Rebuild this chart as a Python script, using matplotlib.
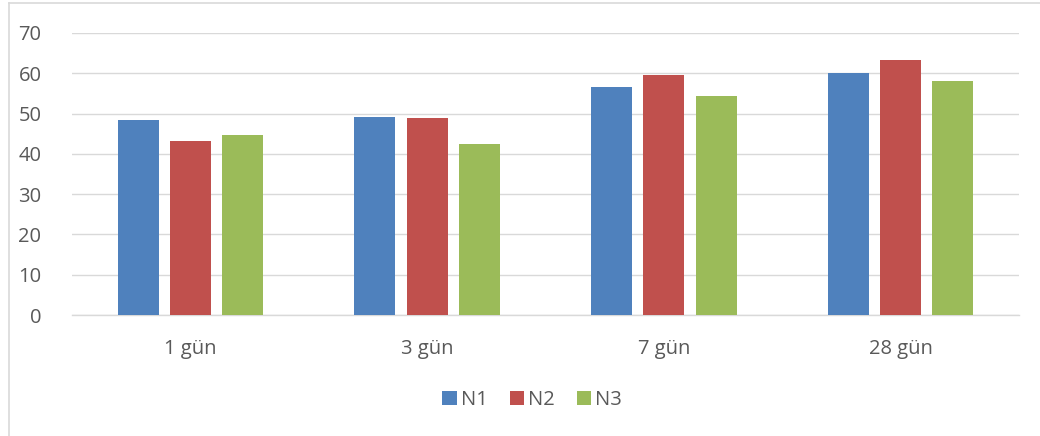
import matplotlib
matplotlib.use("Agg")
import matplotlib.pyplot as plt
from matplotlib.lines import Line2D
import numpy as np

categories = ["1 gün", "3 gün", "7 gün", "28 gün"]
series_names = ["N1", "N2", "N3"]
n1 = [48.4, 49.2, 56.5, 60.0]
n2 = [43.2, 48.9, 59.6, 63.2]
n3 = [44.6, 42.4, 54.3, 58.2]
yticks = [0, 10, 20, 30, 40, 50, 60, 70]
colors = ["#4F81BD", "#C0504D", "#9BBB59"]

W, H = 1040, 436
fig = plt.figure(figsize=(W / 100, H / 100), dpi=100)
plt.rcParams['font.family'] = ['Open Sans', 'DejaVu Sans']

# outer border (top and left edges visible)
fig.lines.append(Line2D([8.5 / W, 8.5 / W], [0, (H - 3.5) / H], transform=fig.transFigure,
                        color="#d9d9d9", linewidth=1.2))
fig.lines.append(Line2D([8.5 / W, 1], [(H - 3.5) / H, (H - 3.5) / H], transform=fig.transFigure,
                        color="#d9d9d9", linewidth=1.2))

ax = fig.add_axes([72 / W, (H - 315) / H, 947 / W, 282 / H])
x = np.arange(len(categories))
bw = 0.173
step = 0.221
for i, (vals, name) in enumerate(zip([n1, n2, n3], series_names)):
    ax.bar(x + (i - 1) * step, vals, width=bw, color=colors[i], label=name, zorder=3)

ax.set_xlim(-0.5, len(categories) - 0.5)
ax.set_ylim(0, 70)
ax.set_yticks(yticks)
ax.set_xticks(x)
ax.set_xticklabels(categories)
ax.yaxis.grid(True, color="#d9d9d9", linewidth=1.0, zorder=0)
ax.set_axisbelow(True)
for s in ["top", "right", "left"]:
    ax.spines[s].set_visible(False)
ax.spines["bottom"].set_color("#d9d9d9")
ax.spines["bottom"].set_linewidth(1.0)
ax.tick_params(axis="both", length=0, labelsize=14.5, colors="#595959")
ax.tick_params(axis="y", pad=22)
ax.tick_params(axis="x", pad=17)

leg = fig.legend(loc="center", bbox_to_anchor=(532 / W, (H - 400) / H), ncol=3,
                 frameon=False, fontsize=14.5, handlelength=0.7, handleheight=0.7,
                 handletextpad=0.2, columnspacing=1.1)
for t in leg.get_texts():
    t.set_color("#595959")

fig.savefig("out.png", dpi=100)
